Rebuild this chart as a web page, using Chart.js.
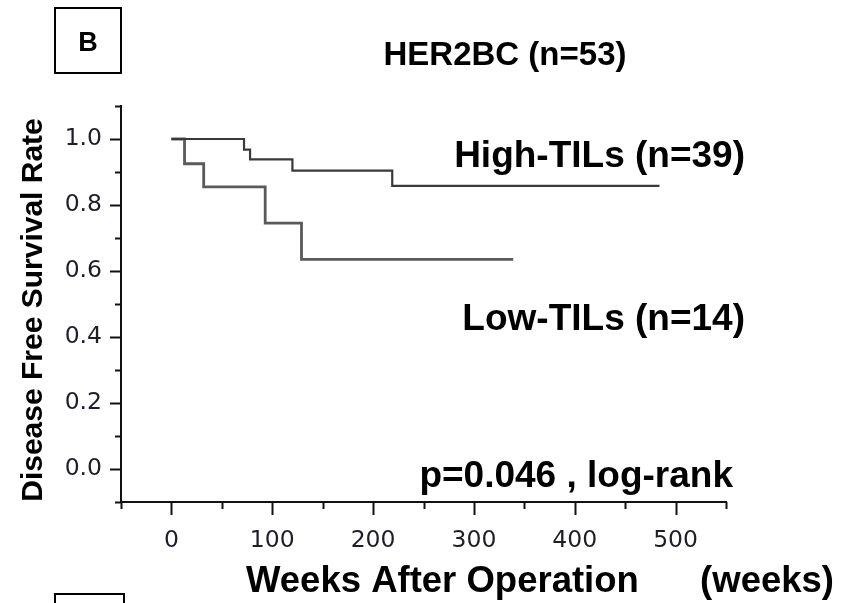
<!DOCTYPE html>
<html>
<head>
<meta charset="utf-8">
<script src="https://cdn.jsdelivr.net/npm/chart.js@4.4.1/dist/chart.umd.min.js"></script>
<style>
  html, body { margin: 0; padding: 0; background: #fff; }
  #wrap { position: relative; width: 850px; height: 603px; }
</style>
</head>
<body>
<div id="wrap"><canvas id="km" width="850" height="603"></canvas></div>
<script>
// Kaplan-Meier steps, disease free survival by TIL group (weeks)
const weeksHigh = [0, 72, 78, 120, 219, 484];
const survHigh = [1.0, 0.968, 0.938, 0.904, 0.858, 0.858];
const weeksLow = [0, 13, 32, 93, 129, 339];
const survLow = [1.0, 0.925, 0.855, 0.745, 0.635, 0.635];

const xTicks = [0, 100, 200, 300, 400, 500];
const yTicks = [0.0, 0.2, 0.4, 0.6, 0.8, 1.0];

const panelLabel = "B";
const titleText = "HER2BC (n=53)";
const highLabel = "High-TILs (n=39)";
const lowLabel = "Low-TILs (n=14)";
const pText = "p=0.046 , log-rank";
const xTitle = "Weeks After Operation";
const xUnit = "(weeks)";
const yTitle = "Disease Free Survival Rate";

const toPoints = (xs, ys) => xs.map((x, i) => ({ x: x, y: ys[i] }));

const bold = (px) => "bold " + px + "px 'Liberation Sans', Arial, sans-serif";

// tick marks: long on labelled values, short on the halfway ones
const tickMarks = {
  id: "tickMarks",
  afterDraw(chart) {
    const ctx = chart.ctx;
    const xs = chart.scales.x;
    const ys = chart.scales.y;
    ctx.save();
    ctx.strokeStyle = "#111";
    ctx.lineWidth = 2;
    ys.ticks.forEach((t) => {
      const v = Math.round(t.value * 10);
      const py = Math.round(ys.getPixelForValue(t.value)) + 0.5;
      const len = v % 2 === 0 ? 11 : 6;
      ctx.beginPath();
      ctx.moveTo(ys.right, py);
      ctx.lineTo(ys.right - len, py);
      ctx.stroke();
    });
    xs.ticks.forEach((t) => {
      const px = Math.round(xs.getPixelForValue(t.value)) + 0.5;
      const len = t.value % 100 === 0 ? 13 : 7;
      ctx.beginPath();
      ctx.moveTo(px, xs.top);
      ctx.lineTo(px, xs.top + len);
      ctx.stroke();
    });
    ctx.restore();
  },
};

// titles, group labels, p value and the panel letter
const annotations = {
  id: "annotations",
  afterDraw(chart) {
    const ctx = chart.ctx;
    ctx.save();
    ctx.fillStyle = "#000";
    ctx.textBaseline = "alphabetic";

    ctx.lineWidth = 2;
    ctx.strokeStyle = "#000";
    ctx.strokeRect(55, 8, 66, 65);
    ctx.beginPath();
    ctx.moveTo(55, 610);
    ctx.lineTo(55, 594);
    ctx.lineTo(124, 594);
    ctx.lineTo(124, 610);
    ctx.stroke();

    ctx.font = bold(27);
    ctx.textAlign = "center";
    ctx.fillText(panelLabel, 88, 51);

    ctx.font = bold(33);
    ctx.fillText(titleText, 505, 65);

    ctx.font = bold(37);
    ctx.textAlign = "right";
    ctx.fillText(highLabel, 745, 167);
    ctx.fillText(lowLabel, 745, 330);
    ctx.fillText(pText, 733, 487);

    ctx.font = bold(36.5);
    ctx.textAlign = "left";
    ctx.fillText(xTitle, 246, 592);
    ctx.textAlign = "right";
    ctx.fillText(xUnit, 834, 592);

    ctx.translate(42, 310);
    ctx.rotate(-Math.PI / 2);
    ctx.textAlign = "center";
    ctx.font = bold(30);
    ctx.fillText(yTitle, 0, 0);
    ctx.restore();
  },
};

new Chart(document.getElementById("km"), {
  type: "scatter",
  data: {
    datasets: [
      {
        label: highLabel,
        data: toPoints(weeksHigh, survHigh),
        showLine: true,
        stepped: true,
        borderColor: "#3a3a3a",
        borderWidth: 2.2,
        pointRadius: 0,
      },
      {
        label: lowLabel,
        data: toPoints(weeksLow, survLow),
        showLine: true,
        stepped: true,
        borderColor: "#5a5a5a",
        borderWidth: 2.8,
        pointRadius: 0,
      },
    ],
  },
  options: {
    responsive: false,
    animation: false,
    layout: { padding: { left: 0, top: 106, right: 124, bottom: 0 } },
    plugins: { legend: { display: false }, tooltip: { enabled: false } },
    scales: {
      x: {
        type: "linear",
        min: -50,
        max: 550,
        afterFit(scale) {
          scale.height = 101;
        },
        border: { display: true, color: "#111", width: 2 },
        grid: { display: true, drawOnChartArea: false, drawTicks: false },
        ticks: {
          stepSize: 50,
          padding: 25,
          autoSkip: false,
          maxRotation: 0,
          minRotation: 0,
          color: "#1e1e2a",
          font: { family: "'DejaVu Sans', Verdana, sans-serif", size: 23.5 },
          callback: (v) => (xTicks.includes(v) ? String(v) : ""),
        },
      },
      y: {
        type: "linear",
        min: -0.1,
        max: 1.1,
        afterFit(scale) {
          scale.width = 121;
        },
        border: { display: true, color: "#111", width: 2 },
        grid: { display: true, drawOnChartArea: false, drawTicks: false },
        ticks: {
          stepSize: 0.1,
          padding: 19,
          autoSkip: false,
          color: "#1e1e2a",
          font: { family: "'DejaVu Sans', Verdana, sans-serif", size: 23.5 },
          callback: (v) => {
            const r = Math.round(v * 10) / 10;
            return yTicks.some((t) => Math.abs(t - r) < 1e-9) ? r.toFixed(1) : "";
          },
        },
      },
    },
  },
  plugins: [tickMarks, annotations],
});
</script>
</body>
</html>
